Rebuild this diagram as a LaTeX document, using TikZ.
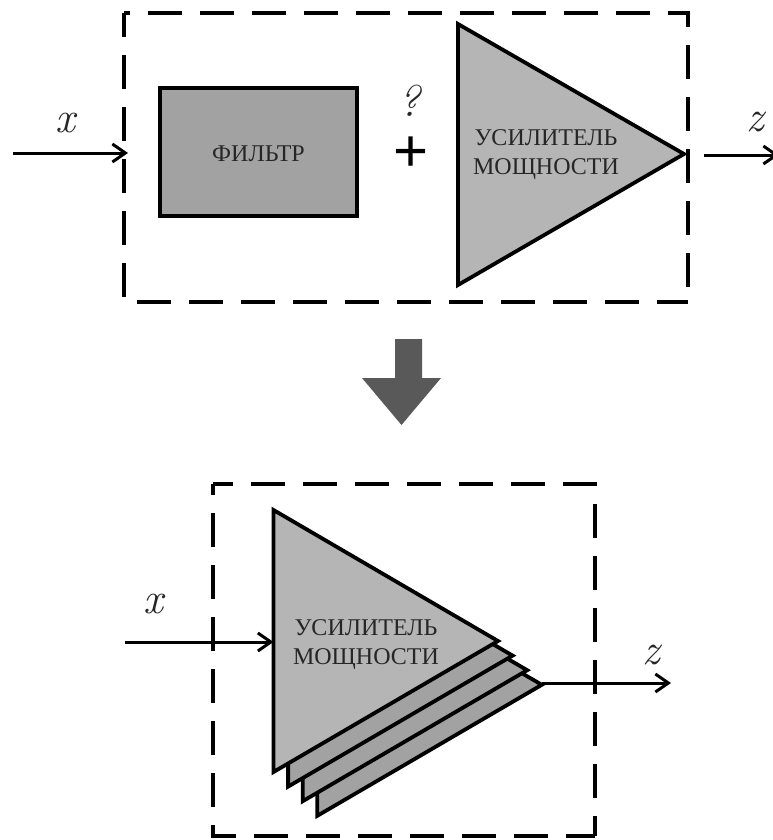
\documentclass[tikz,border=0pt]{standalone}
\usepackage{fontspec}
\usepackage{xcolor}
\usepackage{tikz}
\usetikzlibrary{arrows.meta,positioning,calc}
\newfontfamily\cyrfont{Liberation Serif}
\newfontfamily\plusfont{Liberation Sans}
\definecolor{AmpGray}{HTML}{B5B5B5}
\definecolor{FilterGray}{HTML}{A2A2A2}
\definecolor{DownGray}{HTML}{595959}
\definecolor{InkGray}{HTML}{262626}
\begin{document}
\begin{tikzpicture}[x=1pt, y=-1pt, line join=miter]
\tikzset{frame/.style={draw=black, line width=3.4pt, dash pattern=on 34pt off 18pt, dash phase=#1},
  amp/.style={draw=black, line width=3.8pt, fill=AmpGray},
  ampback/.style={amp, fill=FilterGray},
  wire/.style={draw=black, line width=3pt, -{Straight Barb[length=13pt,width=18pt]}},
  blocktext/.style={font=\cyrfont\fontsize{24}{29}\selectfont, align=center, text=InkGray, inner sep=0pt},
  signal/.style={font=\itshape\fontsize{44}{44}\selectfont, text=InkGray, inner sep=0pt}}
\useasboundingbox (0,0) rectangle (772,840);
% upper part
\draw[frame=28pt] (124,13) -- (688,13) -- (688,302);
\draw[frame=10pt] (124,13) -- (124,302) -- (688,302);
\node[draw=black, line width=3.8pt, fill=FilterGray, minimum width=197pt, minimum height=128pt, inner sep=0pt] (filter) at (258.5,152) {};
\node[blocktext] (filtertext) at (258.5,154) {ФИЛЬТР};
\coordinate (ampA) at (458,24);
\coordinate (ampB) at (684,154);
\coordinate (ampC) at (458,285);
\draw[amp] (ampA) -- (ampB) -- (ampC) -- cycle;
\node[blocktext] (amptext) at (546,155) {УСИЛИТЕЛЬ\\МОЩНОСТИ};
\node[font=\plusfont\fontsize{60}{60}\selectfont, inner sep=0pt] (plus) at (411,154) {+};
\node[signal] (question) at (409,101) {?};
\coordinate (inA) at (13,153);
\coordinate (inB) at (128,153);
\draw[wire] (inA) -- (inB);
\coordinate (outA) at (704,155);
\coordinate (outB) at (779,155);
\draw[wire] (outA) -- (outB);
\node[signal] (xA) at (65,123) {x};
\node[signal] (zA) at (755,122) {z};
% big arrow
\fill[DownGray] (395,339) -- (422,339) -- (422,378) -- (441,378) -- (401.5,425) -- (362,378) -- (395,378) -- cycle;
% lower part
\draw[frame=14pt] (213,484) -- (595,484) -- (595,836);
\draw[frame=23pt] (213,484) -- (213,836) -- (595,836);
\foreach \d in {3,2,1} \draw[ampback, shift={(14.6*\d,14.6*\d)}] (273.5,510) -- (498,641) -- (273.5,772) -- cycle;
\coordinate (stackA) at (273.5,510);
\coordinate (stackB) at (498,641);
\coordinate (stackC) at (273.5,772);
\draw[amp] (stackA) -- (stackB) -- (stackC) -- cycle;
\node[blocktext] (stacktext) at (366,644.5) {УСИЛИТЕЛЬ\\МОЩНОСТИ};
\coordinate (inC) at (125,642);
\draw[wire] (inC) -- (stackA |- inC);
\coordinate (tip) at (542,683);
\coordinate (outC) at (671,683);
\draw[wire] (tip) -- (outC);
\node[signal] (xB) at (153,604) {x};
\node[signal] (zB) at (651,655) {z};
\end{tikzpicture}
\end{document}
